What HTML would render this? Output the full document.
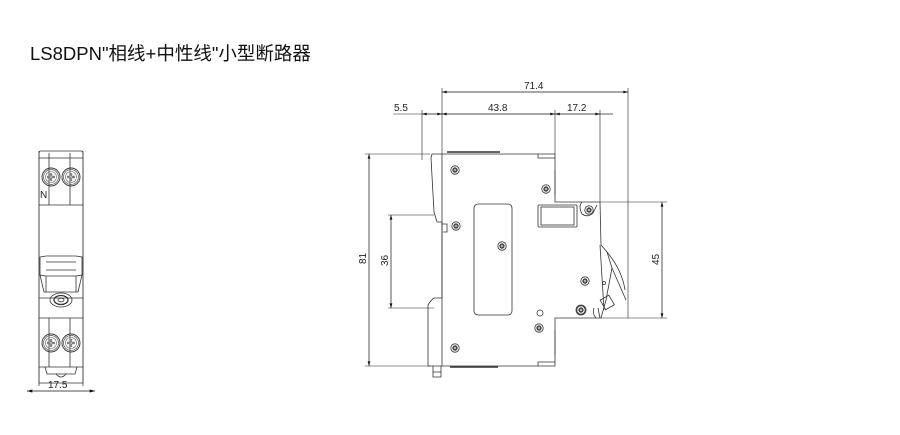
<!DOCTYPE html>
<html><head><meta charset="utf-8"><style>
html,body{margin:0;padding:0;background:#fff;width:900px;height:435px;overflow:hidden}
svg{display:block}
text{font-family:"Liberation Sans",sans-serif;fill:#222}
</style></head><body>
<svg width="900" height="435" viewBox="0 0 900 435" xmlns="http://www.w3.org/2000/svg">
<defs>
<marker id="a" viewBox="0 0 10 6" refX="10" refY="3" markerWidth="7" markerHeight="4" orient="auto-start-reverse"><path d="M0,0L10,3L0,6z" fill="#111"/></marker>
<g id="screw"><circle r="4.2" fill="none" stroke="#333" stroke-width="0.8"/><circle r="2.3" fill="#555" stroke="#222" stroke-width="0.6"/><circle r="1" fill="#ccc"/></g>
<g id="term"><circle r="9" fill="none" stroke="#333" stroke-width="0.9"/><circle r="7.5" fill="none" stroke="#555" stroke-width="0.7"/><circle r="5.5" fill="none" stroke="#666" stroke-width="0.6"/><path d="M-4,0H4M0,-4V4" stroke="#333" stroke-width="2.2"/><path d="M-4,0H4M0,-4V4" stroke="#fff" stroke-width="0.8"/></g>
</defs>
<text x="30" y="60" font-size="18.5" style="font-family:'Liberation Sans','Noto Sans CJK SC',sans-serif;fill:#111">LS8DPN"相线+中性线"小型断路器</text>

<!-- left front view -->
<g fill="none" stroke="#333" stroke-width="0.8">
<path d="M39,153 L40,151 L82,151 L83,153 L83,383 L39,383 Z"/>
<path d="M39,151V386M83,151V386" stroke="#444"/>
<path d="M39,158H83M39,205H83M39,298H83M39,318H83M39,367H83"/>
<path d="M49,153V205M70,153V205M49,318V367M70,318V367"/>
<use href="#term" x="51" y="177"/><use href="#term" x="71" y="177"/>
<use href="#term" x="51" y="343"/><use href="#term" x="71" y="343"/>
<path d="M40,257 L46,256 L76,256 L82,257 L82,275 L76,276 L46,276 L40,275 Z"/>
<path d="M46,262H76M46,270H76M46,276 L46,292 M76,276 L76,292"/>
<path d="M40,275 L44,292 L78,292 L82,275"/>
<ellipse cx="61" cy="300" rx="11" ry="7"/><ellipse cx="61" cy="300" rx="7" ry="4.5" stroke-width="1.3"/><ellipse cx="61" cy="300" rx="3" ry="1.8"/>
<path d="M45,367 L47,374 H75 L77,367"/>
<path d="M56,374 Q61,380 66,374"/>
</g>
<text x="40" y="198" font-size="10">N</text>
<line x1="27" y1="391" x2="95" y2="391" stroke="#111" stroke-width="0.8" marker-start="url(#a)" marker-end="url(#a)"/>
<text x="48" y="388" font-size="10">17.5</text>

<!-- side view -->
<g fill="none" stroke="#333" stroke-width="0.8">
<path d="M432,154 H555 V202 H600 L601,245 L607,252 L612,268 L606,300 L601,318 H555 V366 H428 V305 Q431,300 434,298 H442 V222 H437 L434,212 L431,158 Z"/>
<path d="M442,154 V366"/>
<path d="M447,152 H500 M450,367 H498" stroke-width="1.5"/>
<path d="M538,154 V158 H555 M538,366 V362 H555"/>
<path d="M555,170 V195 M555,330 V355" stroke-width="0.6"/>
<rect x="474" y="204" width="38" height="111" rx="4"/>
<rect x="538" y="205" width="39" height="22" rx="1"/><rect x="541" y="207" width="33" height="18"/>
<path d="M582,202 Q578,206 582,214 Q588,218 593,213 L597,205"/>
<path d="M600,245 L604,310 M607,252 Q622,270 625,290 M612,268 L626,300"/>
<rect x="602" y="297" width="10" height="11" transform="rotate(-30 607 302)"/>
<path d="M600,318 L598,308 M596,318 Q592,314 594,308"/>
<path d="M442,224 H447 V232 H443"/>
<path d="M433,366 V377 H441 V366 M433,372 H441"/>
<circle cx="540" cy="313" r="3"/><circle cx="604" cy="283" r="1.5"/>
<circle cx="581" cy="310" r="5"/>
</g>
<use href="#screw" x="455" y="170"/><use href="#screw" x="546" y="189"/>
<use href="#screw" x="456" y="226"/><use href="#screw" x="502" y="246"/>
<use href="#screw" x="589" y="210"/><use href="#screw" x="585" y="281"/>
<use href="#screw" x="581" y="310"/><use href="#screw" x="539" y="328"/>
<use href="#screw" x="455" y="348"/>

<!-- dimensions -->
<g stroke="#222" stroke-width="0.6" fill="none">
<path d="M442,88 V154 M628,88 V318 M422,110 V160 M555,110 V154 M600,110 V202 M393,114 H422"/>
<path d="M365,154 H430 M365,366 H430 M388,215 H434 M388,308 H434 M600,202 H667 M601,318 H667"/>
</g>
<g stroke="#111" stroke-width="0.7">
<line x1="442" y1="92" x2="628" y2="92" marker-start="url(#a)" marker-end="url(#a)"/>
<line x1="422" y1="114" x2="442" y2="114" marker-start="url(#a)" marker-end="url(#a)"/>
<line x1="442" y1="114" x2="555" y2="114" marker-start="url(#a)" marker-end="url(#a)"/>
<line x1="555" y1="114" x2="600" y2="114" marker-start="url(#a)" marker-end="url(#a)"/>
<line x1="600" y1="114" x2="613" y2="114"/>
<line x1="369" y1="154" x2="369" y2="366" marker-start="url(#a)" marker-end="url(#a)"/>
<line x1="391" y1="215" x2="391" y2="308" marker-start="url(#a)" marker-end="url(#a)"/>
<line x1="662" y1="202" x2="662" y2="318" marker-start="url(#a)" marker-end="url(#a)"/>
</g>
<text x="524" y="89" font-size="10">71.4</text>
<text x="394" y="111" font-size="10">5.5</text>
<text x="488" y="111" font-size="10">43.8</text>
<text x="567" y="111" font-size="10">17.2</text>
<text font-size="10" transform="translate(366,264) rotate(-90)">81</text>
<text font-size="10" transform="translate(388,266) rotate(-90)">36</text>
<text font-size="10" transform="translate(659,265) rotate(-90)">45</text>
</svg>
</body></html>
